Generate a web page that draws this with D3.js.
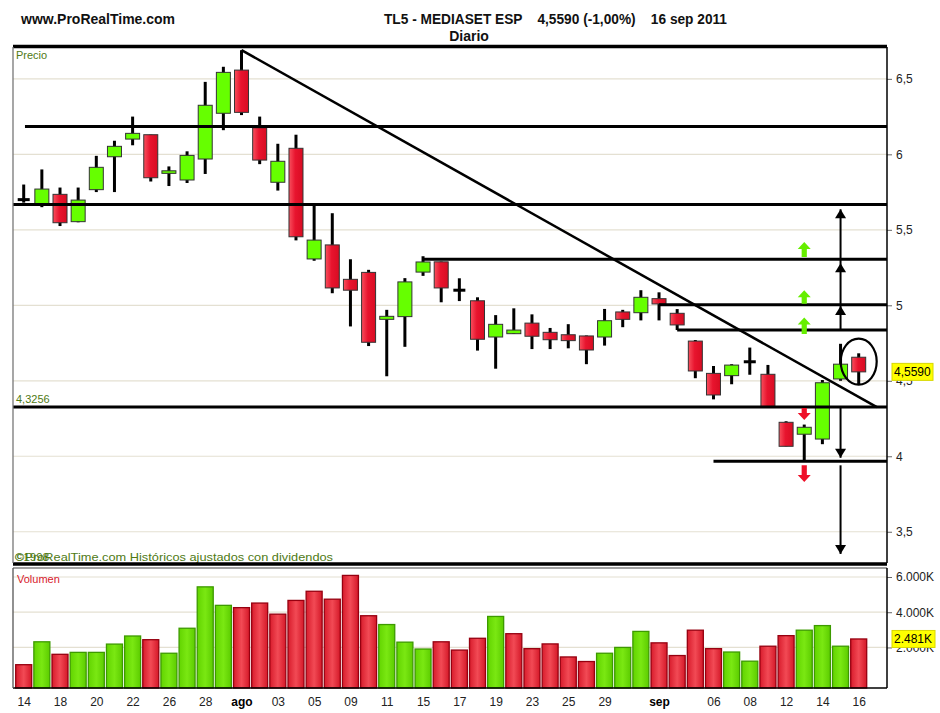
<!DOCTYPE html>
<html><head><meta charset="utf-8">
<script src="https://cdn.jsdelivr.net/npm/d3@7/dist/d3.min.js"></script>
<style>body{margin:0;background:#fff} svg{display:block}</style>
</head><body>
<svg id="c" width="940" height="713"></svg>
<script>
// ---------------- data ----------------
const dates = ["2011-07-14","2011-07-15","2011-07-18","2011-07-19","2011-07-20","2011-07-21","2011-07-22","2011-07-25","2011-07-26","2011-07-27","2011-07-28","2011-07-29",
"2011-08-01","2011-08-02","2011-08-03","2011-08-04","2011-08-05","2011-08-08","2011-08-09","2011-08-10","2011-08-11","2011-08-12","2011-08-15","2011-08-16","2011-08-17","2011-08-18","2011-08-19","2011-08-22","2011-08-23","2011-08-24","2011-08-25","2011-08-26","2011-08-29","2011-08-30","2011-08-31",
"2011-09-01","2011-09-02","2011-09-05","2011-09-06","2011-09-07","2011-09-08","2011-09-09","2011-09-12","2011-09-13","2011-09-14","2011-09-15","2011-09-16"];
const opens  = [5.70,5.67,5.735,5.554,5.766,5.984,6.101,6.13,5.874,5.83,5.969,6.272,6.558,6.176,5.815,6.04,5.307,5.40,5.172,5.218,4.907,4.925,5.22,5.288,5.10,5.03,4.79,4.812,4.882,4.821,4.805,4.797,4.79,4.956,4.951,5.044,4.947,4.763,4.549,4.534,4.626,4.543,4.225,4.146,4.114,4.512,4.656];
const highs  = [5.80,5.90,5.78,5.78,5.99,6.09,6.25,6.13,5.92,6.02,6.48,6.58,6.69,6.25,6.07,6.13,5.66,5.61,5.305,5.235,4.97,5.18,5.325,5.29,5.179,5.053,4.935,4.98,4.94,4.85,4.875,4.80,4.976,4.97,5.10,5.086,4.975,4.77,4.598,4.61,4.72,4.605,4.232,4.21,4.505,4.745,4.682];
const lows   = [5.68,5.65,5.525,5.55,5.75,5.75,6.06,5.82,5.79,5.81,5.87,6.16,6.26,5.935,5.76,5.43,5.295,5.08,4.86,4.73,4.53,4.725,5.195,5.02,5.028,4.70,4.58,4.81,4.71,4.71,4.715,4.61,4.733,4.855,4.90,4.90,4.836,4.517,4.377,4.477,4.54,4.33,4.066,3.97,4.08,4.50,4.472];
const closes = [5.70,5.77,5.547,5.697,5.914,6.053,6.139,5.845,5.891,5.993,6.325,6.543,6.278,5.962,5.954,5.454,5.432,5.115,5.10,4.755,4.927,5.155,5.287,5.115,5.10,4.775,4.874,4.836,4.795,4.772,4.766,4.704,4.898,4.907,5.053,5.009,4.87,4.565,4.406,4.604,4.626,4.33,4.066,4.192,4.487,4.61,4.559];
const volumes = [1020,2320,1610,1720,1720,2190,2650,2440,1670,3090,5440,4390,4260,4520,3890,4670,5190,4740,6090,3800,3300,2300,1910,2320,1850,2520,3760,2780,1930,2200,1460,1200,1670,2000,2910,2260,1540,2980,1930,1740,1220,2070,2670,2980,3240,2070,2481];
const prevClose = 5.75; // close before the first day (sets first volume bar colour)

const tickIdx  = [0,2,4,6,8,10,12,14,16,18,20,22,24,26,28,30,32,35,38,40,42,44,46];
const tickText = ["14","18","20","22","26","28","ago","03","05","09","11","15","17","19","23","25","29","sep","06","08","12","14","16"];
const priceTicks = [3.5,4,4.5,5,5.5,6,6.5];
const volTicks = [2000,4000,6000];

const lastPrice = 4.559, lastVolume = 2481;
const title = "TL5 - MEDIASET ESP    4,5590 (-1,00%)    16 sep 2011";

// drawn annotations (price levels, trend line, arrows)
const levelValues = [6.185,5.667,5.305,5.004,4.836,4.3256,3.967];
const levelStarts = [0.07,null,22,35,36,null,38];
const trendIdx = [12,47], trendVal = [6.69,4.325];
const greenArrowIdx = 43, greenArrowBase = [5.32,5.01,4.81], greenArrowTip = [5.42,5.10,4.92];
const redArrowIdx = 43, redArrowBase = [4.32,3.94], redArrowTip = [4.24,3.83];
const blackIdx = 45;
const blackLineFrom = [4.836,4.3256,3.94], blackLineTo = [5.636,3.99,3.353];
const blackHeadVal = [4.995,5.278,5.636,3.99,3.353], blackHeadDir = [1,1,1,-1,-1];
const circleIdx = 46, circleVal = 4.627;

// ---------------- layout ----------------
const L = 13, R = 887, PT = 47, PB = 563, VT = 568, VB = 688;
const svg = d3.select("#c");
const font = "'Liberation Sans', Arial, sans-serif";

const x = d3.scaleLinear().domain([0, dates.length - 1]).range([23.7, 858.7]);
const y = d3.scaleLinear().domain([3.293, 6.711]).range([PB, PT]);
const yv = d3.scaleLinear().domain([-150, 6000]).range([VB - 2.7, 577]);

const defs = svg.append("defs");
function grad(id, stops){
  const g = defs.append("linearGradient").attr("id", id).attr("x1","0").attr("x2","1").attr("y1","0").attr("y2","0");
  stops.forEach(s => g.append("stop").attr("offset", s[0]).attr("stop-color", s[1]));
}
grad("redBody", [["0%","#f8505e"],["45%","#e8142e"],["100%","#d80c22"]]);
grad("redVol", [["0%","#d81c2c"],["50%","#f24a55"],["100%","#d41828"]]);
grad("greenVol", [["0%","#62d400"],["50%","#7ae812"],["100%","#5ccc00"]]);

defs.append("clipPath").attr("id","pclip").append("rect").attr("x",L).attr("y",PT).attr("width",R-L).attr("height",PB-PT);

// ---------------- header texts ----------------
svg.append("text").attr("x",21).attr("y",24).attr("font-family",font).attr("font-weight","bold")
  .attr("font-size",14).attr("fill","#111").text("www.ProRealTime.com");
svg.append("text").attr("x",384).attr("y",24).attr("font-family",font).attr("font-weight","bold")
  .attr("font-size",14).attr("fill","#111").attr("textLength",343).attr("lengthAdjust","spacingAndGlyphs")
  .style("white-space","pre").text(title);
svg.append("text").attr("x",469).attr("y",41).attr("text-anchor","middle").attr("font-family",font)
  .attr("font-weight","bold").attr("font-size",14).attr("fill","#111").text("Diario");

// ---------------- price panel ----------------
const pg = svg.append("g");
pg.selectAll("line.grid").data(priceTicks).join("line").attr("class","grid")
  .attr("x1",L).attr("x2",R).attr("y1",d=>y(d)).attr("y2",d=>y(d))
  .attr("stroke","#e4e0d2").attr("stroke-width",1.2);

const candles = dates.map((d,i)=>({i, o:opens[i], h:highs[i], l:lows[i], c:closes[i]}));
const bw = 14;
pg.selectAll("line.wick").data(candles).join("line").attr("class","wick")
  .attr("x1",d=>x(d.i)).attr("x2",d=>x(d.i)).attr("y1",d=>y(d.h)).attr("y2",d=>y(d.l))
  .attr("stroke","#000").attr("stroke-width",3);
pg.selectAll("rect.body").data(candles.filter(d=>d.o!==d.c)).join("rect").attr("class","body")
  .attr("x",d=>x(d.i)-bw/2).attr("width",bw)
  .attr("y",d=>y(Math.max(d.o,d.c))).attr("height",d=>Math.max(2,Math.abs(y(d.o)-y(d.c))))
  .attr("fill",d=>d.c>d.o?"#66ff00":"url(#redBody)").attr("stroke","#333").attr("stroke-width",1);
pg.selectAll("line.doji").data(candles.filter(d=>d.o===d.c)).join("line").attr("class","doji")
  .attr("x1",d=>x(d.i)-bw/2+1).attr("x2",d=>x(d.i)+bw/2-1).attr("y1",d=>y(d.c)).attr("y2",d=>y(d.c))
  .attr("stroke","#000").attr("stroke-width",3);

const ag = pg.append("g").attr("clip-path","url(#pclip)");
ag.selectAll("line.level").data(levelValues.map((v,k)=>({v, s:levelStarts[k]}))).join("line").attr("class","level")
  .attr("x1",d=>d.s===null?L:x(d.s)).attr("x2",R).attr("y1",d=>y(d.v)).attr("y2",d=>y(d.v))
  .attr("stroke","#000").attr("stroke-width",3);
ag.append("line").attr("x1",x(trendIdx[0])).attr("y1",y(trendVal[0])).attr("x2",x(trendIdx[1])).attr("y2",y(trendVal[1]))
  .attr("stroke","#000").attr("stroke-width",2.5);

function fatArrow(cx, yb, yt){
  const dir = yt < yb ? -1 : 1;
  const hl = 7, hw = 6.5, sw = 2.6;
  const yh = yt - dir*hl;
  return `M${cx-sw},${yb} L${cx-sw},${yh} L${cx-hw},${yh} L${cx},${yt} L${cx+hw},${yh} L${cx+sw},${yh} L${cx+sw},${yb} Z`;
}
greenArrowBase.forEach((b,k)=>{
  ag.append("path").attr("d",fatArrow(x(greenArrowIdx),y(b),y(greenArrowTip[k]))).attr("fill","#66ee00");
});
redArrowBase.forEach((b,k)=>{
  ag.append("path").attr("d",fatArrow(x(redArrowIdx),y(b),y(redArrowTip[k]))).attr("fill","#ee1028");
});
blackLineFrom.forEach((f,k)=>{
  ag.append("line").attr("x1",x(blackIdx)).attr("x2",x(blackIdx)).attr("y1",y(f)).attr("y2",y(blackLineTo[k]))
    .attr("stroke","#000").attr("stroke-width",2);
});
blackHeadVal.forEach((v,k)=>{
  const cx = x(blackIdx), ty = y(v), h = 9*blackHeadDir[k];
  ag.append("path").attr("d",`M${cx},${ty} L${cx-5.5},${ty+h} L${cx+5.5},${ty+h} Z`).attr("fill","#000");
});
ag.append("ellipse").attr("cx",x(circleIdx)).attr("cy",y(circleVal)).attr("rx",18).attr("ry",23)
  .attr("fill","none").attr("stroke","#000").attr("stroke-width",2.2);

svg.append("text").attr("x",16).attr("y",59).attr("font-family",font).attr("font-size",11).attr("fill","#4f7a14").text("Precio");
svg.append("text").attr("x",16).attr("y",403).attr("font-family",font).attr("font-size",11).attr("fill","#4f7a14")
  .text(d3.format(".4f")(levelValues[5]).replace(".",","));
svg.append("text").attr("x",15).attr("y",561).attr("font-family",font).attr("font-size",11.5).attr("fill","#4f7a14").text("©1998");
svg.append("text").attr("x",15).attr("y",561).attr("font-family",font).attr("font-size",11.5).attr("fill","#4f7a14")
  .attr("textLength",318).attr("lengthAdjust","spacingAndGlyphs")
  .text("©ProRealTime.com  Históricos ajustados con dividendos");

const pax = svg.append("g").attr("transform",`translate(${R},0)`)
  .call(d3.axisRight(y).tickValues(priceTicks).tickSize(5).tickPadding(4).tickFormat(d=>String(d).replace(".",",")));
pax.select(".domain").remove();
pax.selectAll("text").attr("font-family",font).attr("font-size",12).attr("fill","#222");
pax.selectAll("line").attr("stroke","#666");

const lp = svg.append("g").attr("transform",`translate(892,${y(lastPrice)})`);
lp.append("rect").attr("x",0).attr("y",-8.5).attr("width",41).attr("height",17).attr("fill","#ffff00").attr("stroke","#d8d800");
lp.append("text").attr("x",2).attr("y",4.5).attr("font-family",font).attr("font-size",12).attr("fill","#000")
  .text(d3.format(".4f")(lastPrice).replace(".",","));

svg.append("line").attr("x1",L).attr("x2",R).attr("y1",PT-0.5).attr("y2",PT-0.5).attr("stroke","#000").attr("stroke-width",3.5);
svg.append("line").attr("x1",L).attr("x2",R).attr("y1",PB+1).attr("y2",PB+1).attr("stroke","#000").attr("stroke-width",3.5);
svg.append("line").attr("x1",L).attr("x2",L).attr("y1",PT).attr("y2",PB).attr("stroke","#777").attr("stroke-width",1.3);
svg.append("line").attr("x1",R).attr("x2",R).attr("y1",PT).attr("y2",PB).attr("stroke","#000").attr("stroke-width",1.5);

// ---------------- volume panel ----------------
const vg = svg.append("g");
vg.selectAll("line.vgrid").data(volTicks).join("line").attr("class","vgrid")
  .attr("x1",L).attr("x2",R).attr("y1",d=>yv(d)).attr("y2",d=>yv(d)).attr("stroke","#e4e0d2").attr("stroke-width",1.2);
const vols = volumes.map((v,i)=>({i, v, up: closes[i] > (i===0?prevClose:closes[i-1])}));
const vbw = 17;
vg.selectAll("rect.vol").data(vols).join("rect").attr("class","vol")
  .attr("x",d=>x(d.i)-vbw/2+0.5).attr("width",vbw-1).attr("y",d=>yv(d.v)).attr("height",d=>VB-yv(d.v))
  .attr("fill",d=>d.up?"url(#greenVol)":"url(#redVol)")
  .attr("stroke",d=>d.up?"#3d9a00":"#960010").attr("stroke-width",1.3);
svg.append("text").attr("x",17).attr("y",583).attr("font-family",font).attr("font-size",11).attr("fill","#d8202c").text("Volumen");

const vax = svg.append("g").attr("transform",`translate(${R},0)`)
  .call(d3.axisRight(yv).tickValues(volTicks).tickSize(5).tickPadding(4).tickFormat(d=>d3.format(",")(d).replace(/,/g,".")+"K"));
vax.select(".domain").remove();
vax.selectAll("text").attr("font-family",font).attr("font-size",12).attr("fill","#222");
vax.selectAll("line").attr("stroke","#666");

const lv = svg.append("g").attr("transform",`translate(892,${yv(lastVolume)})`);
lv.append("rect").attr("x",0).attr("y",-8.5).attr("width",43).attr("height",17).attr("fill","#ffff00").attr("stroke","#d8d800");
lv.append("text").attr("x",2).attr("y",4.5).attr("font-family",font).attr("font-size",12).attr("fill","#000")
  .text(d3.format(",")(lastVolume).replace(/,/g,".")+"K");

svg.append("line").attr("x1",L).attr("x2",R).attr("y1",VT).attr("y2",VT).attr("stroke","#444").attr("stroke-width",1.2);
svg.append("line").attr("x1",L).attr("x2",R).attr("y1",VB).attr("y2",VB).attr("stroke","#000").attr("stroke-width",1.5);
svg.append("line").attr("x1",L).attr("x2",L).attr("y1",VT).attr("y2",VB).attr("stroke","#555").attr("stroke-width",1.3);
svg.append("line").attr("x1",R).attr("x2",R).attr("y1",VT).attr("y2",VB).attr("stroke","#000").attr("stroke-width",1.5);

const xax = svg.append("g").attr("transform",`translate(0,${VB})`)
  .call(d3.axisBottom(x).tickValues(tickIdx).tickSize(0).tickPadding(9).tickFormat((d,k)=>tickText[k]));
xax.select(".domain").remove();
xax.selectAll("text").attr("font-family",font).attr("font-size",12)
  .attr("font-weight",(d,k)=>(tickText[k]==="ago"||tickText[k]==="sep")?"bold":"normal")
  .attr("fill",(d,k)=>(tickText[k]==="ago"||tickText[k]==="sep")?"#000":"#222");
</script>
</body></html>
